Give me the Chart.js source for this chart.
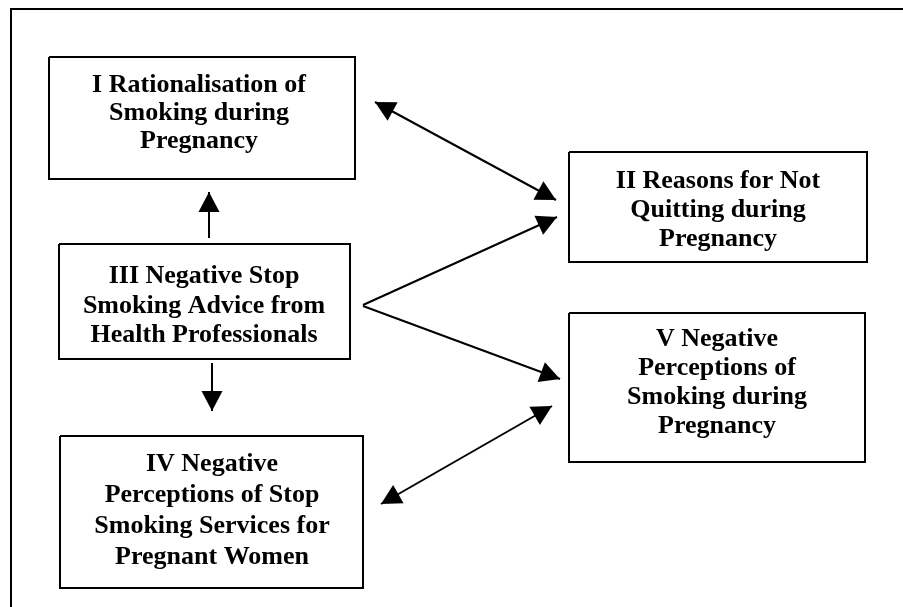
<!DOCTYPE html>
<html>
<head>
<meta charset="utf-8">
<script src="https://cdn.jsdelivr.net/npm/chart.js@4.4.0/dist/chart.umd.min.js"></script>
<style>
  html, body { margin: 0; padding: 0; background: #fff; }
  #wrap { width: 903px; height: 607px; }
</style>
</head>
<body>
<div id="wrap"><canvas id="diagram"></canvas></div>
<script>
// boxes of the diagram (in page units, y grows downwards)
var boxLabels = [
  ["I Rationalisation of", "Smoking during", "Pregnancy"],
  ["II Reasons for Not", "Quitting during", "Pregnancy"],
  ["III Negative Stop", "Smoking Advice from", "Health Professionals"],
  ["IV Negative", "Perceptions of Stop", "Smoking Services for", "Pregnant Women"],
  ["V Negative", "Perceptions of", "Smoking during", "Pregnancy"]
];
var boxLeft   = [49, 569, 59, 60, 569];
var boxRight  = [355, 867, 350, 363, 865];
var boxTop    = [57, 152, 244, 436, 313];
var boxBottom = [179, 262, 359, 588, 462];

// links between boxes
var arrowFromX = [209, 212, 375, 363, 363, 381];
var arrowFromY = [238, 363, 102, 305, 306, 504];
var arrowToX   = [209, 212, 556, 557, 560, 552];
var arrowToY   = [192, 411, 200, 217, 379, 406];
var arrowBoth  = [false, false, true, false, false, true];

// text layout inside the boxes
var labelMidX = [199, 718, 204, 212, 717];
var labelMidY = [113.5, 210.5, 306, 511, 383];
var labelGap  = [28, 29, 29.5, 31, 29];

var datasets = [];
// frame (top and left edge only)
datasets.push({
  data: [{x: 903, y: 9}, {x: 11, y: 9}, {x: 11, y: 607}],
  borderColor: "#000", borderWidth: 2
});
for (var i = 0; i < boxLabels.length; i++) {
  datasets.push({
    data: [
      {x: boxLeft[i], y: boxTop[i]}, {x: boxRight[i], y: boxTop[i]},
      {x: boxRight[i], y: boxBottom[i]}, {x: boxLeft[i], y: boxBottom[i]},
      {x: boxLeft[i], y: boxTop[i]}
    ],
    borderColor: "#000", borderWidth: 2
  });
}
for (var j = 0; j < arrowFromX.length; j++) {
  datasets.push({
    data: [{x: arrowFromX[j], y: arrowFromY[j]}, {x: arrowToX[j], y: arrowToY[j]}],
    borderColor: "#000", borderWidth: 2
  });
}

function head(ctx, sx, sy, tx, ty) {
  var a = Math.atan2(ty - sy, tx - sx);
  var len = 20, half = 10.5;
  var bx = tx - len * Math.cos(a), by = ty - len * Math.sin(a);
  ctx.beginPath();
  ctx.moveTo(tx, ty);
  ctx.lineTo(bx + half * Math.sin(a), by - half * Math.cos(a));
  ctx.lineTo(bx - half * Math.sin(a), by + half * Math.cos(a));
  ctx.closePath();
  ctx.fill();
}

var diagramPlugin = {
  id: "diagram",
  afterDatasetsDraw: function(chart) {
    var ctx = chart.ctx;
    var xs = chart.scales.x, ys = chart.scales.y;
    ctx.save();
    ctx.fillStyle = "#000";
    for (var j = 0; j < arrowFromX.length; j++) {
      var sx = xs.getPixelForValue(arrowFromX[j]), sy = ys.getPixelForValue(arrowFromY[j]);
      var tx = xs.getPixelForValue(arrowToX[j]), ty = ys.getPixelForValue(arrowToY[j]);
      head(ctx, sx, sy, tx, ty);
      if (arrowBoth[j]) head(ctx, tx, ty, sx, sy);
    }
    ctx.font = "bold 26px 'Liberation Serif', 'Times New Roman', serif";
    ctx.textAlign = "center";
    ctx.textBaseline = "middle";
    for (var i = 0; i < boxLabels.length; i++) {
      var cx = xs.getPixelForValue(labelMidX[i]);
      var cy = ys.getPixelForValue(labelMidY[i]);
      var lines = boxLabels[i];
      var y0 = cy - (lines.length - 1) * labelGap[i] / 2;
      for (var k = 0; k < lines.length; k++) {
        ctx.fillText(lines[k], cx, y0 + k * labelGap[i]);
      }
    }
    ctx.restore();
  }
};

new Chart(document.getElementById("diagram").getContext("2d"), {
  type: "scatter",
  data: { datasets: datasets },
  options: {
    responsive: true,
    maintainAspectRatio: false,
    animation: false,
    layout: { padding: 0 },
    showLine: true,
    elements: { point: { radius: 0, hoverRadius: 0 }, line: { tension: 0 } },
    plugins: { legend: { display: false }, tooltip: { enabled: false } },
    scales: {
      x: { type: "linear", min: 0, max: 903, display: false },
      y: { type: "linear", min: 0, max: 607, reverse: true, display: false }
    }
  },
  plugins: [diagramPlugin]
});
</script>
</body>
</html>
